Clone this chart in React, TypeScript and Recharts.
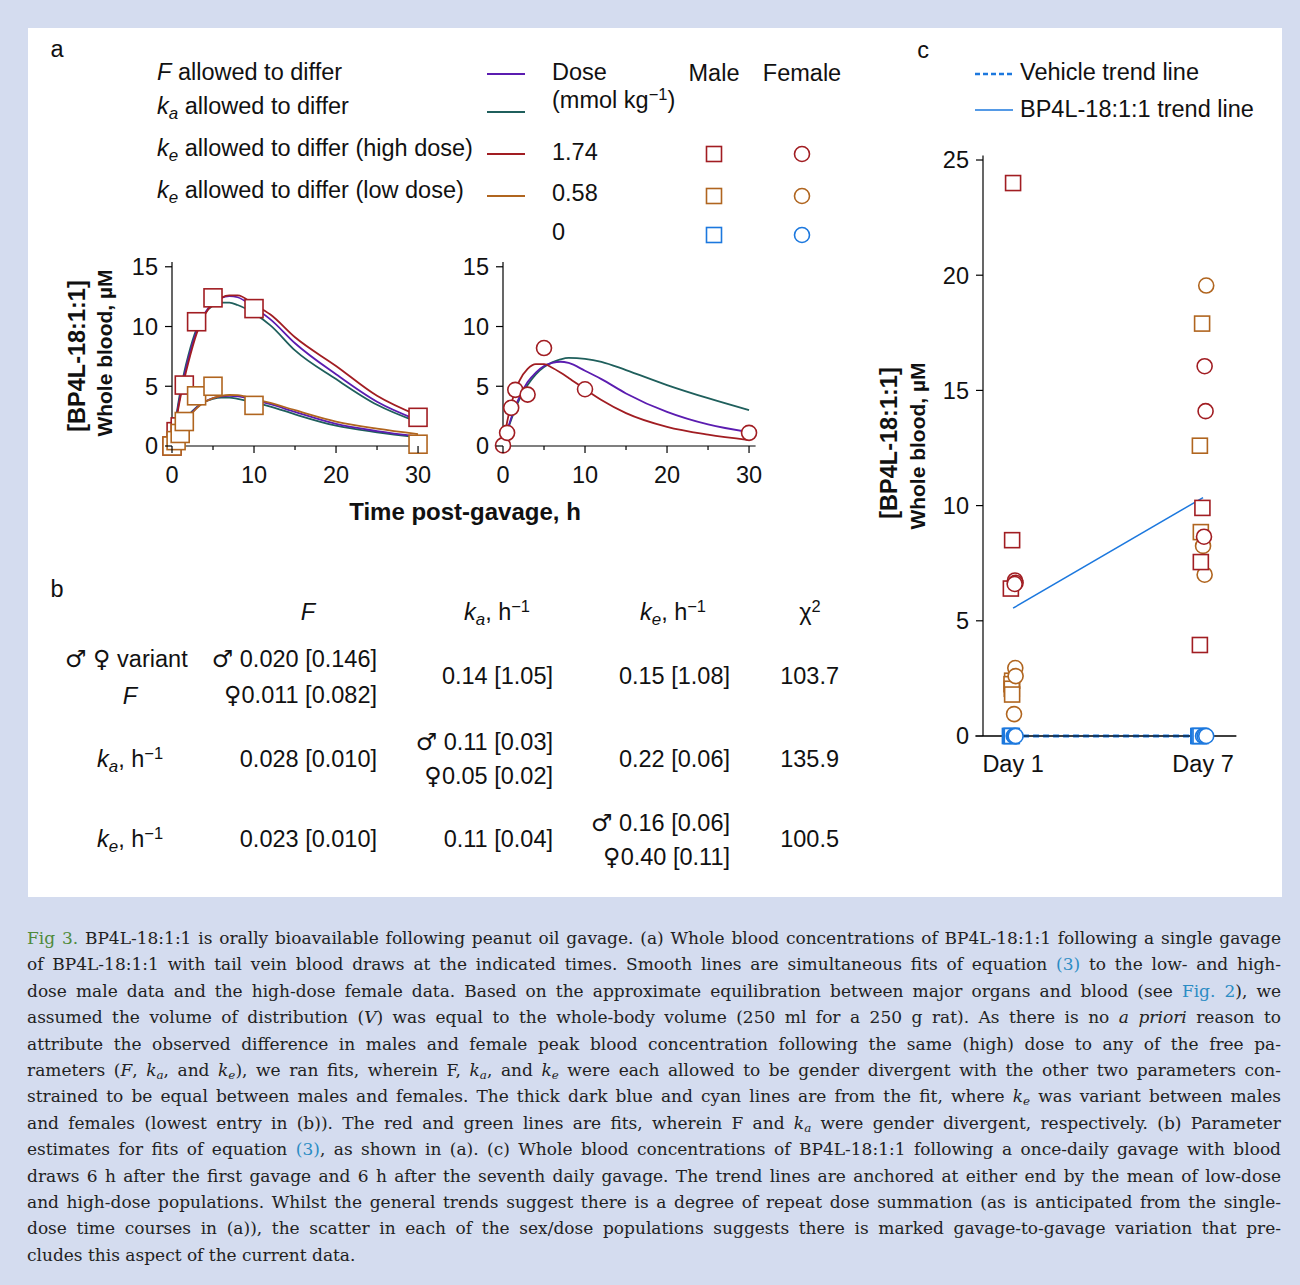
import React from 'react';
import { ComposedChart, Line, Scatter, XAxis, YAxis, ReferenceLine } from 'recharts';

const SANS = '"Liberation Sans", Arial, Helvetica, sans-serif';
const SERIF = '"DejaVu Serif", "Liberation Serif", serif';

const RED = '#a11d22';
const ORANGE = '#b0651f';
const PURPLE = '#5b1cb0';
const TEAL = '#1f5f5c';
const BLUE = '#1c78de';
const BG = '#d4dcef';
const INK = '#111';

// panel a: blood draw times (h) and measured concentrations (µM)
const sampleTimes = [0, 0.5, 1, 1.5, 3, 5, 10, 30];
const maleHighDose = [0, 1.2, 1.6, 5.1, 10.4, 12.4, 11.5, 2.4];
const maleLowDose = [0, 0.45, 1.05, 2.05, 4.2, 5.0, 3.4, 0.15];
const femaleHighDose = [0.05, 1.1, 3.2, 4.7, 4.3, 8.2, 4.75, 1.1];

// panel a: fitted curves
const fitTimes = [0, 0.5, 1, 1.5, 2, 3, 4, 5, 6, 7, 8, 10, 12, 15, 20, 25, 30];
const maleHighFitF = [0, 2.3, 4.2, 5.9, 7.3, 9.6, 11.1, 11.95, 12.4, 12.55, 12.45, 11.6, 10.6, 8.6, 6.0, 3.7, 2.15];
const maleHighFitKa = [0, 2.4, 4.5, 6.2, 7.6, 9.8, 11.1, 11.75, 12.0, 12.0, 11.8, 11.1, 10.1, 8.0, 5.6, 3.45, 2.0];
const maleHighFitKe = [0, 2.1, 4.0, 5.6, 7.0, 9.4, 11.0, 11.9, 12.4, 12.6, 12.6, 11.85, 11.0, 9.1, 6.7, 4.2, 2.55];
const maleLowFitF = [0, 0.75, 1.4, 1.95, 2.45, 3.2, 3.7, 4.0, 4.15, 4.2, 4.15, 3.85, 3.5, 2.85, 1.85, 1.25, 0.8];
const maleLowFitKa = [0, 0.8, 1.5, 2.05, 2.55, 3.25, 3.7, 3.95, 4.05, 4.05, 3.95, 3.65, 3.3, 2.65, 1.7, 1.15, 0.72];
const maleLowFitKe = [0, 0.7, 1.35, 1.9, 2.4, 3.15, 3.7, 4.0, 4.2, 4.27, 4.25, 3.95, 3.6, 3.0, 2.05, 1.45, 1.0];
const femaleFitF = [0, 1.25, 2.35, 3.3, 4.1, 5.35, 6.15, 6.7, 6.95, 7.05, 6.95, 6.3, 5.6, 4.4, 2.85, 1.8, 1.15];
const femaleFitKa = [0, 1.2, 2.2, 3.1, 3.9, 5.1, 6.0, 6.6, 7.0, 7.25, 7.38, 7.3, 7.05, 6.35, 5.1, 4.0, 3.0];
const femaleFitKe = [0, 2.0, 3.5, 4.6, 5.45, 6.45, 6.85, 6.85, 6.55, 6.15, 5.7, 4.75, 3.85, 2.75, 1.6, 0.95, 0.5];

const timeTicks = [0, 5, 10, 15, 20, 25, 30];
const concTicks = [0, 5, 10, 15];

// panel c: day of gavage (x, with the small jitter of the figure) and concentration
const day1HighMale = [24.0, 8.5, 6.4];
const day1HighMaleX = [1.0, 0.97, 0.93];
const day1HighFemale = [6.75, 6.65, 6.6];
const day1HighFemaleX = [1.06, 1.08, 1.05];
const day1LowMale = [2.4, 2.25, 2.05, 1.8];
const day1LowMaleX = [0.97, 0.95, 0.96, 0.97];
const day1LowFemale = [2.95, 2.6, 0.95];
const day1LowFemaleX = [1.07, 1.08, 1.03];
const day1VehMale = [0, 0, 0];
const day1VehMaleX = [0.9, 0.93, 0.96];
const day1VehFemale = [0, 0, 0];
const day1VehFemaleX = [1.02, 1.05, 1.08];
const day7HighMale = [9.9, 7.55, 3.95];
const day7HighMaleX = [6.98, 6.93, 6.9];
const day7HighFemale = [16.05, 14.1, 8.65];
const day7HighFemaleX = [7.05, 7.08, 7.03];
const day7LowMale = [17.9, 12.6, 8.85];
const day7LowMaleX = [6.97, 6.9, 6.93];
const day7LowFemale = [19.55, 8.25, 7.0];
const day7LowFemaleX = [7.1, 7.0, 7.05];
const day7VehMale = [0, 0, 0];
const day7VehMaleX = [6.85, 6.88, 6.92];
const day7VehFemale = [0, 0, 0];
const day7VehFemaleX = [7.0, 7.05, 7.1];

const trendDays = [1, 7];
const bp4lTrend = [5.55, 10.35];
const vehicleTrend = [0, 0];
const dayTicks = [1, 7];
const dayLabels: Record<number, string> = { 1: 'Day 1', 7: 'Day 7' };
const bloodTicks = [0, 5, 10, 15, 20, 25];

const pts = (xs: number[], ys: number[]) => xs.map((t, i) => ({ t, c: ys[i] }));

const square = (color: string, s: number) => (p: any) => (
  <rect x={p.cx - s / 2} y={p.cy - s / 2} width={s} height={s} fill="#fff" stroke={color} strokeWidth={1.6} />
);
const ring = (color: string, r: number) => (p: any) => (
  <circle cx={p.cx} cy={p.cy} r={r} fill="#fff" stroke={color} strokeWidth={1.6} />
);

const timeTick = (p: any) => {
  const v = p.payload.value;
  const major = v % 10 === 0;
  return (
    <g>
      <line x1={p.x} x2={p.x} y1={p.y} y2={p.y + (major ? 7 : 4)} stroke="#000" strokeWidth={1.2} />
      {major && (
        <text x={p.x} y={p.y + 37} textAnchor="middle" fontSize={23.5} fontFamily={SANS} fill={INK}>
          {v}
        </text>
      )}
    </g>
  );
};

const valueTick = (p: any) => (
  <g>
    <line x1={p.x - 7} x2={p.x} y1={p.y} y2={p.y} stroke="#000" strokeWidth={1.2} />
    <text x={p.x - 14} y={p.y} dy="0.36em" textAnchor="end" fontSize={23.5} fontFamily={SANS} fill={INK}>
      {p.payload.value}
    </text>
  </g>
);

const dayTick = (p: any) => (
  <text x={p.x} y={p.y + 36} textAnchor="middle" fontSize={23.5} fontFamily={SANS} fill={INK}>
    {dayLabels[p.payload.value]}
  </text>
);

type Fit = { ys: number[]; color: string };
type Marks = { ys: number[]; xs: number[]; color: string; kind: 'sq' | 'ci' };

function PkPanel({ left, yw, right, fits, marks }: { left: number; yw: number; right: number; fits: Fit[]; marks: Marks[] }) {
  return (
    <div style={{ position: 'absolute', left, top: 240 }}>
      <ComposedChart width={340} height={250} margin={{ top: 22, right, bottom: 14, left: 0 }}>
        <XAxis
          type="number"
          dataKey="t"
          domain={[0, 30.8]}
          ticks={timeTicks}
          interval={0}
          height={30}
          tickSize={0}
          tickMargin={0}
          tick={timeTick}
          axisLine={{ stroke: '#000', strokeWidth: 1.2 }}
        />
        <YAxis
          type="number"
          dataKey="c"
          domain={[0, 15.4]}
          ticks={concTicks}
          interval={0}
          width={yw}
          tickSize={0}
          tickMargin={0}
          tick={valueTick}
          axisLine={{ stroke: '#000', strokeWidth: 1.2 }}
        />
        {fits.map((f, i) => (
          <Line
            key={'f' + i}
            data={pts(fitTimes, f.ys)}
            dataKey="c"
            type="monotone"
            stroke={f.color}
            strokeWidth={1.8}
            dot={false}
            activeDot={false}
            isAnimationActive={false}
          />
        ))}
        {marks.map((m, i) => (
          <Scatter
            key={'m' + i}
            data={pts(m.xs, m.ys)}
            dataKey="c"
            shape={m.kind === 'sq' ? square(m.color, 18) : ring(m.color, 7.5)}
            isAnimationActive={false}
          />
        ))}
      </ComposedChart>
    </div>
  );
}

function RepeatPanel() {
  const groups: Marks[] = [
    { xs: day1VehMaleX, ys: day1VehMale, color: BLUE, kind: 'sq' },
    { xs: day7VehMaleX, ys: day7VehMale, color: BLUE, kind: 'sq' },
    { xs: day1VehFemaleX, ys: day1VehFemale, color: BLUE, kind: 'ci' },
    { xs: day7VehFemaleX, ys: day7VehFemale, color: BLUE, kind: 'ci' },
    { xs: day1LowMaleX, ys: day1LowMale, color: ORANGE, kind: 'sq' },
    { xs: day7LowMaleX, ys: day7LowMale, color: ORANGE, kind: 'sq' },
    { xs: day1LowFemaleX, ys: day1LowFemale, color: ORANGE, kind: 'ci' },
    { xs: day7LowFemaleX, ys: day7LowFemale, color: ORANGE, kind: 'ci' },
    { xs: day1HighMaleX, ys: day1HighMale, color: RED, kind: 'sq' },
    { xs: day7HighMaleX, ys: day7HighMale, color: RED, kind: 'sq' },
    { xs: day1HighFemaleX, ys: day1HighFemale, color: RED, kind: 'ci' },
    { xs: day7HighFemaleX, ys: day7HighFemale, color: RED, kind: 'ci' },
  ];
  return (
    <div style={{ position: 'absolute', left: 870, top: 130 }}>
      <ComposedChart width={400} height={660} margin={{ top: 25.4, right: 33.7, bottom: 14, left: 0 }}>
        <XAxis
          type="number"
          dataKey="t"
          domain={[0.05, 8.05]}
          ticks={dayTicks}
          interval={0}
          height={40}
          tickSize={0}
          tickMargin={0}
          tick={dayTick}
          axisLine={{ stroke: '#000', strokeWidth: 1.2 }}
        />
        <YAxis
          type="number"
          dataKey="c"
          domain={[0, 25.2]}
          ticks={bloodTicks}
          interval={0}
          width={113}
          tickSize={0}
          tickMargin={0}
          tick={valueTick}
          axisLine={{ stroke: '#000', strokeWidth: 1.2 }}
        />
        <ReferenceLine
          segment={[{ x: -0.2, y: 0 }, { x: 8.05, y: 0 }]}
          ifOverflow="visible"
          stroke="#000"
          strokeWidth={1.2}
        />
        <Line
          data={pts(trendDays, vehicleTrend)}
          dataKey="c"
          type="linear"
          stroke={BLUE}
          strokeWidth={3}
          strokeDasharray="6 4"
          dot={false}
          activeDot={false}
          isAnimationActive={false}
        />
        <Line
          data={pts(trendDays, bp4lTrend)}
          dataKey="c"
          type="linear"
          stroke={BLUE}
          strokeWidth={1.5}
          dot={false}
          activeDot={false}
          isAnimationActive={false}
        />
        {groups.map((m, i) => (
          <Scatter
            key={'g' + i}
            data={pts(m.xs, m.ys)}
            dataKey="c"
            shape={m.kind === 'sq' ? square(m.color, 15) : ring(m.color, 7.5)}
            isAnimationActive={false}
          />
        ))}
      </ComposedChart>
    </div>
  );
}

function Txt({ x, y, align = 'left', size = 23.5, bold, italic, children, color = INK }: any) {
  const tx = align === 'left' ? '0' : align === 'center' ? '-50%' : '-100%';
  return (
    <div
      style={{
        position: 'absolute',
        left: x,
        top: y,
        transform: `translate(${tx}, -50%)`,
        fontSize: size,
        lineHeight: 1,
        whiteSpace: 'nowrap',
        fontWeight: bold ? 700 : 400,
        fontStyle: italic ? 'italic' : 'normal',
        color,
      }}
    >
      {children}
    </div>
  );
}

function VTxt({ x, y, size, children }: any) {
  return (
    <div
      style={{
        position: 'absolute',
        left: x,
        top: y,
        transform: 'translate(-50%, -50%) rotate(-90deg)',
        fontSize: size,
        fontWeight: 700,
        lineHeight: 1,
        whiteSpace: 'nowrap',
        color: INK,
      }}
    >
      {children}
    </div>
  );
}

const Sub = ({ children }: any) => (
  <span style={{ fontSize: '0.72em', verticalAlign: '-0.28em', fontStyle: 'italic' }}>{children}</span>
);
const Sup = ({ children }: any) => <span style={{ fontSize: '0.7em', verticalAlign: '0.5em' }}>{children}</span>;
const K = ({ s }: { s: string }) => (
  <>
    <i>k</i>
    <Sub>{s}</Sub>
  </>
);
const PerH = () => (
  <>
    , h<Sup>−1</Sup>
  </>
);
const Sym = ({ children }: any) => (
  <span style={{ fontFamily: '"DejaVu Sans", sans-serif', fontSize: '1.02em' }}>{children}</span>
);

function Key() {
  const lines = [
    { y: 74, color: PURPLE },
    { y: 112, color: TEAL },
    { y: 154, color: RED },
    { y: 196, color: ORANGE },
  ];
  const doses = [
    { y: 154, color: RED },
    { y: 196, color: ORANGE },
    { y: 235, color: BLUE },
  ];
  return (
    <>
      <Txt x={157} y={73}>
        <i>F</i> allowed to differ
      </Txt>
      <Txt x={157} y={109}>
        <K s="a" /> allowed to differ
      </Txt>
      <Txt x={157} y={151}>
        <K s="e" /> allowed to differ (high dose)
      </Txt>
      <Txt x={157} y={193}>
        <K s="e" /> allowed to differ (low dose)
      </Txt>
      <Txt x={552} y={73}>Dose</Txt>
      <Txt x={552} y={99}>
        (mmol kg<Sup>−1</Sup>)
      </Txt>
      <Txt x={552} y={153}>1.74</Txt>
      <Txt x={552} y={194}>0.58</Txt>
      <Txt x={552} y={233}>0</Txt>
      <Txt x={714} y={74} align="center">Male</Txt>
      <Txt x={802} y={74} align="center">Female</Txt>
      <svg style={{ position: 'absolute', left: 0, top: 0 }} width={1300} height={260}>
        {lines.map((l) => (
          <line key={l.y} x1={487} x2={525} y1={l.y} y2={l.y} stroke={l.color} strokeWidth={1.8} />
        ))}
        {doses.map((d) => (
          <g key={d.y}>
            <rect x={714 - 7.5} y={d.y - 7.5} width={15} height={15} fill="#fff" stroke={d.color} strokeWidth={1.6} />
            <circle cx={802} cy={d.y} r={7.5} fill="#fff" stroke={d.color} strokeWidth={1.6} />
          </g>
        ))}
        <line x1={975} x2={1013} y1={74} y2={74} stroke={BLUE} strokeWidth={2.5} strokeDasharray="5 3" />
        <line x1={975} x2={1013} y1={110} y2={110} stroke={BLUE} strokeWidth={1.5} />
      </svg>
      <Txt x={1020} y={73}>Vehicle trend line</Txt>
      <Txt x={1020} y={110}>BP4L-18:1:1 trend line</Txt>
    </>
  );
}

function ParamTable() {
  return (
    <>
      <Txt x={308} y={613} align="center" italic>F</Txt>
      <Txt x={497} y={613} align="center">
        <K s="a" />
        <PerH />
      </Txt>
      <Txt x={673} y={613} align="center">
        <K s="e" />
        <PerH />
      </Txt>
      <Txt x={810} y={611} align="center">
        χ<Sup>2</Sup>
      </Txt>

      <Txt x={65} y={660}>
        <Sym>♂</Sym> <Sym>♀</Sym> variant
      </Txt>
      <Txt x={130} y={697} align="center" italic>F</Txt>
      <Txt x={377} y={660} align="right">
        <Sym>♂</Sym> 0.020 [0.146]
      </Txt>
      <Txt x={377} y={696} align="right">
        <Sym>♀</Sym>0.011 [0.082]
      </Txt>
      <Txt x={553} y={677} align="right">0.14 [1.05]</Txt>
      <Txt x={730} y={677} align="right">0.15 [1.08]</Txt>
      <Txt x={839} y={677} align="right">103.7</Txt>

      <Txt x={97} y={760}>
        <K s="a" />
        <PerH />
      </Txt>
      <Txt x={377} y={760} align="right">0.028 [0.010]</Txt>
      <Txt x={553} y={743} align="right">
        <Sym>♂</Sym> 0.11 [0.03]
      </Txt>
      <Txt x={553} y={777} align="right">
        <Sym>♀</Sym>0.05 [0.02]
      </Txt>
      <Txt x={730} y={760} align="right">0.22 [0.06]</Txt>
      <Txt x={839} y={760} align="right">135.9</Txt>

      <Txt x={97} y={840}>
        <K s="e" />
        <PerH />
      </Txt>
      <Txt x={377} y={840} align="right">0.023 [0.010]</Txt>
      <Txt x={553} y={840} align="right">0.11 [0.04]</Txt>
      <Txt x={730} y={824} align="right">
        <Sym>♂</Sym> 0.16 [0.06]
      </Txt>
      <Txt x={730} y={858} align="right">
        <Sym>♀</Sym>0.40 [0.11]
      </Txt>
      <Txt x={839} y={840} align="right">100.5</Txt>
    </>
  );
}

const LINK = '#2b8cc4';
const Lk = ({ children }: any) => <span style={{ color: LINK }}>{children}</span>;
const Ks = ({ s }: { s: string }) => (
  <>
    <i>k</i>
    <span style={{ fontSize: '0.7em', verticalAlign: '-0.25em', fontStyle: 'italic' }}>{s}</span>
  </>
);

const captionLines: React.ReactNode[] = [
  <>
    <span style={{ color: '#4e8a3a' }}>Fig 3.</span> BP4L-18:1:1 is orally bioavailable following peanut oil gavage. (a) Whole
    blood concentrations of BP4L-18:1:1 following a single gavage
  </>,
  <>
    of BP4L-18:1:1 with tail vein blood draws at the indicated times. Smooth lines are simultaneous fits of equation <Lk>(3)</Lk> to
    the low- and high-
  </>,
  <>
    dose male data and the high-dose female data. Based on the approximate equilibration between major organs and blood (see{' '}
    <Lk>Fig. 2</Lk>), we
  </>,
  <>
    assumed the volume of distribution (<i>V</i>) was equal to the whole-body volume (250 ml for a 250 g rat). As there is no{' '}
    <i>a priori</i> reason to
  </>,
  <>attribute the observed difference in males and female peak blood concentration following the same (high) dose to any of the free pa-</>,
  <>
    rameters (<i>F</i>, <Ks s="a" />, and <Ks s="e" />), we ran fits, wherein F, <Ks s="a" />, and <Ks s="e" /> were each allowed to
    be gender divergent with the other two parameters con-
  </>,
  <>
    strained to be equal between males and females. The thick dark blue and cyan lines are from the fit, where <Ks s="e" /> was
    variant between males
  </>,
  <>
    and females (lowest entry in (b)). The red and green lines are fits, wherein F and <Ks s="a" /> were gender divergent,
    respectively. (b) Parameter
  </>,
  <>
    estimates for fits of equation <Lk>(3)</Lk>, as shown in (a). (c) Whole blood concentrations of BP4L-18:1:1 following a
    once-daily gavage with blood
  </>,
  <>draws 6 h after the first gavage and 6 h after the seventh daily gavage. The trend lines are anchored at either end by the mean of low-dose</>,
  <>and high-dose populations. Whilst the general trends suggest there is a degree of repeat dose summation (as is anticipated from the single-</>,
  <>dose time courses in (a)), the scatter in each of the sex/dose populations suggests there is marked gavage-to-gavage variation that pre-</>,
  <>cludes this aspect of the current data.</>,
];

function Caption() {
  return (
    <>
      {captionLines.map((ln, i) => (
        <div
          key={i}
          style={{
            position: 'absolute',
            left: 27,
            width: 1254,
            top: 925 + i * 26.4,
            height: 26,
            lineHeight: '26px',
            fontFamily: SERIF,
            fontSize: 17,
            color: '#222',
            whiteSpace: 'nowrap',
            textAlign: 'justify',
            textAlignLast: i === captionLines.length - 1 ? 'left' : 'justify',
          }}
        >
          {ln}
        </div>
      ))}
    </>
  );
}

export default function App() {
  return (
    <div
      style={{
        position: 'absolute',
        left: 0,
        top: 0,
        width: 1300,
        height: 1285,
        background: BG,
        fontFamily: SANS,
        color: INK,
        overflow: 'hidden',
      }}
    >
      <div style={{ position: 'absolute', left: 28, top: 28, width: 1254, height: 869, background: '#fff' }} />

      <Txt x={57} y={50} align="center">a</Txt>
      <Txt x={57} y={590} align="center">b</Txt>
      <Txt x={923} y={51} align="center">c</Txt>

      <Key />

      <PkPanel
        left={100}
        yw={72}
        right={15.4}
        fits={[
          { ys: maleHighFitKa, color: TEAL },
          { ys: maleHighFitF, color: PURPLE },
          { ys: maleHighFitKe, color: RED },
          { ys: maleLowFitKa, color: TEAL },
          { ys: maleLowFitF, color: PURPLE },
          { ys: maleLowFitKe, color: ORANGE },
        ]}
        marks={[
          { xs: sampleTimes, ys: maleHighDose, color: RED, kind: 'sq' },
          { xs: sampleTimes, ys: maleLowDose, color: ORANGE, kind: 'sq' },
        ]}
      />
      <PkPanel
        left={430}
        yw={73}
        right={14.4}
        fits={[
          { ys: femaleFitKa, color: TEAL },
          { ys: femaleFitF, color: PURPLE },
          { ys: femaleFitKe, color: RED },
        ]}
        marks={[{ xs: sampleTimes, ys: femaleHighDose, color: RED, kind: 'ci' }]}
      />
      <VTxt x={78} y={356} size={23.5}>[BP4L-18:1:1]</VTxt>
      <VTxt x={104} y={353} size={21}>Whole blood, µM</VTxt>
      <Txt x={465} y={512} align="center" bold size={24}>
        Time post-gavage, h
      </Txt>

      <RepeatPanel />
      <VTxt x={890} y={443} size={23.5}>[BP4L-18:1:1]</VTxt>
      <VTxt x={917} y={446} size={21}>Whole blood, µM</VTxt>

      <ParamTable />
      <Caption />
    </div>
  );
}
